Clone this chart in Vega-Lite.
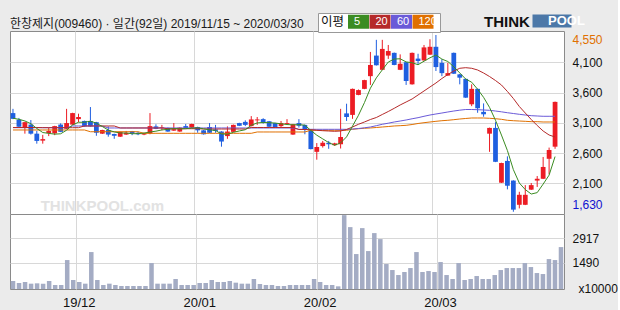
{
  "$schema": "https://vega.github.io/schema/vega-lite/v6.json",
  "background": "#ebebeb",
  "padding": {"left": 7, "top": 12, "right": 0, "bottom": 0},
  "spacing": 0,
  "bounds": "flush",
  "config": {
    "view": {"stroke": "#8a8a8a", "fill": "white"},
    "font": "Liberation Sans",
    "axis": {"gridColor": "#d8d8d8", "domain": false, "ticks": false, "labelFont": "Liberation Sans", "labelColor": "#111", "labelOverlap": false}
  },
  "datasets": {
    "d": [
      {"date":"2019-11-15","open":3260,"high":3330,"low":3160,"close":3165,"vol":457,"ma5":3175,"ma20":3022,"ma60":3019,"ma120":2981},
      {"date":"2019-11-18","open":3150,"high":3180,"low":3030,"close":3035,"vol":343,"ma5":3157,"ma20":3022,"ma60":3019,"ma120":2981},
      {"date":"2019-11-19","open":3015,"high":3115,"low":2920,"close":3110,"vol":400,"ma5":3130,"ma20":3022,"ma60":3019,"ma120":2981},
      {"date":"2019-11-20","open":3070,"high":3145,"low":2905,"close":2920,"vol":305,"ma5":3085,"ma20":3022,"ma60":3019,"ma120":2981},
      {"date":"2019-11-21","open":2920,"high":2965,"low":2755,"close":2800,"vol":324,"ma5":3006,"ma20":3022,"ma60":3019,"ma120":2981},
      {"date":"2019-11-22","open":2805,"high":2900,"low":2755,"close":2830,"vol":305,"ma5":2939,"ma20":3019,"ma60":3019,"ma120":2981},
      {"date":"2019-11-25","open":2930,"high":3020,"low":2880,"close":2965,"vol":457,"ma5":2925,"ma20":3019,"ma60":3019,"ma120":2981},
      {"date":"2019-11-26","open":2925,"high":3050,"low":2895,"close":3045,"vol":228,"ma5":2912,"ma20":3019,"ma60":3019,"ma120":2981},
      {"date":"2019-11-27","open":3070,"high":3090,"low":2945,"close":2950,"vol":228,"ma5":2918,"ma20":3019,"ma60":3019,"ma120":2981},
      {"date":"2019-11-28","open":3000,"high":3330,"low":2995,"close":3095,"vol":1656,"ma5":2977,"ma20":3019,"ma60":3019,"ma120":2981},
      {"date":"2019-11-29","open":3070,"high":3265,"low":3065,"close":3260,"vol":514,"ma5":3063,"ma20":3019,"ma60":3047,"ma120":2981},
      {"date":"2019-12-02","open":3160,"high":3250,"low":3110,"close":3195,"vol":400,"ma5":3109,"ma20":3019,"ma60":3047,"ma120":2981},
      {"date":"2019-12-03","open":3130,"high":3135,"low":3035,"close":3040,"vol":305,"ma5":3108,"ma20":3047,"ma60":3047,"ma120":2981},
      {"date":"2019-12-04","open":3130,"high":3360,"low":3035,"close":3040,"vol":2113,"ma5":3126,"ma20":3047,"ma60":3047,"ma120":2952},
      {"date":"2019-12-05","open":3110,"high":3115,"low":2885,"close":2935,"vol":514,"ma5":3094,"ma20":3047,"ma60":3047,"ma120":2952},
      {"date":"2019-12-06","open":2920,"high":2985,"low":2915,"close":2980,"vol":228,"ma5":3038,"ma20":3047,"ma60":3047,"ma120":2952},
      {"date":"2019-12-09","open":2980,"high":3040,"low":2870,"close":2905,"vol":305,"ma5":2980,"ma20":3047,"ma60":3014,"ma120":2952},
      {"date":"2019-12-10","open":2915,"high":2920,"low":2835,"close":2885,"vol":228,"ma5":2949,"ma20":3047,"ma60":3014,"ma120":2952},
      {"date":"2019-12-11","open":2870,"high":2955,"low":2865,"close":2950,"vol":171,"ma5":2931,"ma20":3014,"ma60":3014,"ma120":2952},
      {"date":"2019-12-12","open":2905,"high":2965,"low":2900,"close":2935,"vol":171,"ma5":2931,"ma20":3014,"ma60":3014,"ma120":2952},
      {"date":"2019-12-13","open":2960,"high":2965,"low":2895,"close":2920,"vol":171,"ma5":2919,"ma20":3014,"ma60":3014,"ma120":2952},
      {"date":"2019-12-16","open":2935,"high":2950,"low":2895,"close":2910,"vol":171,"ma5":2920,"ma20":3014,"ma60":3014,"ma120":2952},
      {"date":"2019-12-17","open":2905,"high":2935,"low":2895,"close":2930,"vol":171,"ma5":2929,"ma20":3014,"ma60":3014,"ma120":2926},
      {"date":"2019-12-18","open":2925,"high":3260,"low":2910,"close":3045,"vol":1485,"ma5":2948,"ma20":3014,"ma60":3014,"ma120":2926},
      {"date":"2019-12-19","open":3040,"high":3075,"low":2995,"close":3000,"vol":305,"ma5":2961,"ma20":3014,"ma60":3014,"ma120":2926},
      {"date":"2019-12-20","open":3015,"high":3065,"low":2975,"close":3025,"vol":305,"ma5":2982,"ma20":3014,"ma60":3014,"ma120":2926},
      {"date":"2019-12-23","open":3015,"high":3020,"low":2950,"close":2955,"vol":305,"ma5":2991,"ma20":3002,"ma60":3014,"ma120":2926},
      {"date":"2019-12-24","open":2970,"high":3095,"low":2965,"close":2995,"vol":571,"ma5":3004,"ma20":3002,"ma60":3014,"ma120":2926},
      {"date":"2019-12-26","open":2955,"high":3025,"low":2950,"close":3020,"vol":228,"ma5":2999,"ma20":3002,"ma60":3014,"ma120":2926},
      {"date":"2019-12-27","open":3045,"high":3080,"low":3010,"close":3015,"vol":228,"ma5":3002,"ma20":3002,"ma60":3014,"ma120":2926},
      {"date":"2019-12-30","open":3020,"high":3085,"low":3015,"close":3080,"vol":228,"ma5":3013,"ma20":3002,"ma60":3014,"ma120":2926},
      {"date":"2020-01-02","open":3030,"high":3035,"low":2935,"close":2975,"vol":343,"ma5":3017,"ma20":3002,"ma60":3014,"ma120":2926},
      {"date":"2020-01-03","open":2975,"high":2980,"low":2905,"close":2910,"vol":343,"ma5":3000,"ma20":2997,"ma60":3014,"ma120":2926},
      {"date":"2020-01-06","open":3030,"high":3095,"low":2930,"close":2935,"vol":514,"ma5":2983,"ma20":2997,"ma60":3014,"ma120":2926},
      {"date":"2020-01-07","open":2990,"high":3065,"low":2935,"close":2965,"vol":400,"ma5":2973,"ma20":2997,"ma60":3014,"ma120":2926},
      {"date":"2020-01-08","open":2955,"high":2960,"low":2705,"close":2790,"vol":400,"ma5":2915,"ma20":2997,"ma60":3014,"ma120":2926},
      {"date":"2020-01-09","open":2880,"high":3040,"low":2835,"close":2955,"vol":457,"ma5":2911,"ma20":2997,"ma60":3014,"ma120":2926},
      {"date":"2020-01-10","open":2950,"high":3070,"low":2945,"close":3065,"vol":362,"ma5":2942,"ma20":2997,"ma60":3014,"ma120":2926},
      {"date":"2020-01-13","open":3095,"high":3100,"low":3045,"close":3050,"vol":305,"ma5":2965,"ma20":2997,"ma60":3014,"ma120":2926},
      {"date":"2020-01-14","open":3115,"high":3140,"low":3045,"close":3065,"vol":305,"ma5":2985,"ma20":2997,"ma60":3014,"ma120":2926},
      {"date":"2020-01-15","open":3045,"high":3210,"low":3040,"close":3155,"vol":571,"ma5":3058,"ma20":3022,"ma60":3014,"ma120":2926},
      {"date":"2020-01-16","open":3140,"high":3195,"low":3065,"close":3155,"vol":286,"ma5":3098,"ma20":3022,"ma60":3014,"ma120":2948},
      {"date":"2020-01-17","open":3160,"high":3175,"low":3085,"close":3100,"vol":228,"ma5":3105,"ma20":3022,"ma60":3014,"ma120":2948},
      {"date":"2020-01-20","open":3125,"high":3130,"low":3030,"close":3035,"vol":228,"ma5":3102,"ma20":3022,"ma60":3014,"ma120":2948},
      {"date":"2020-01-21","open":3095,"high":3100,"low":3025,"close":3030,"vol":171,"ma5":3095,"ma20":3022,"ma60":3014,"ma120":2948},
      {"date":"2020-01-22","open":3045,"high":3130,"low":3020,"close":3095,"vol":171,"ma5":3083,"ma20":3022,"ma60":3014,"ma120":2948},
      {"date":"2020-01-23","open":3080,"high":3160,"low":3075,"close":3095,"vol":228,"ma5":3071,"ma20":3022,"ma60":3014,"ma120":2948},
      {"date":"2020-01-28","open":2905,"high":3080,"low":2900,"close":3075,"vol":228,"ma5":3066,"ma20":3022,"ma60":3014,"ma120":2948},
      {"date":"2020-01-29","open":3095,"high":3160,"low":3020,"close":3050,"vol":228,"ma5":3069,"ma20":2989,"ma60":2992,"ma120":2948},
      {"date":"2020-01-30","open":3065,"high":3070,"low":2910,"close":2985,"vol":228,"ma5":3060,"ma20":2989,"ma60":2992,"ma120":2948},
      {"date":"2020-01-31","open":2975,"high":2980,"low":2660,"close":2665,"vol":571,"ma5":2974,"ma20":2986,"ma60":2992,"ma120":2976},
      {"date":"2020-02-03","open":2620,"high":2765,"low":2490,"close":2700,"vol":400,"ma5":2895,"ma20":2976,"ma60":2992,"ma120":2976},
      {"date":"2020-02-04","open":2715,"high":2800,"low":2690,"close":2770,"vol":228,"ma5":2834,"ma20":2969,"ma60":2992,"ma120":2976},
      {"date":"2020-02-05","open":2770,"high":2800,"low":2670,"close":2745,"vol":228,"ma5":2773,"ma20":2964,"ma60":2992,"ma120":2976},
      {"date":"2020-02-06","open":2730,"high":2770,"low":2720,"close":2760,"vol":152,"ma5":2728,"ma20":2959,"ma60":2992,"ma120":2976},
      {"date":"2020-02-07","open":2745,"high":3330,"low":2675,"close":2865,"vol":4225,"ma5":2768,"ma20":2964,"ma60":2992,"ma120":2976},
      {"date":"2020-02-10","open":3255,"high":3415,"low":3130,"close":3195,"vol":3540,"ma5":2867,"ma20":2989,"ma60":2992,"ma120":2976},
      {"date":"2020-02-11","open":3230,"high":3665,"low":3165,"close":3660,"vol":1999,"ma5":3045,"ma20":3030,"ma60":2997,"ma120":2992},
      {"date":"2020-02-12","open":3560,"high":3650,"low":3555,"close":3640,"vol":3483,"ma5":3224,"ma20":3075,"ma60":3005,"ma120":3002},
      {"date":"2020-02-13","open":3660,"high":3810,"low":3655,"close":3805,"vol":2170,"ma5":3433,"ma20":3113,"ma60":3017,"ma120":3009},
      {"date":"2020-02-14","open":3870,"high":4270,"low":3725,"close":4055,"vol":3198,"ma5":3671,"ma20":3154,"ma60":3030,"ma120":3014},
      {"date":"2020-02-17","open":4210,"high":4470,"low":4045,"close":4050,"vol":2855,"ma5":3842,"ma20":3187,"ma60":3052,"ma120":3022},
      {"date":"2020-02-18","open":3975,"high":4470,"low":3970,"close":4320,"vol":1428,"ma5":3974,"ma20":3237,"ma60":3075,"ma120":3030},
      {"date":"2020-02-19","open":4210,"high":4385,"low":4155,"close":4285,"vol":1085,"ma5":4103,"ma20":3286,"ma60":3093,"ma120":3038},
      {"date":"2020-02-20","open":4255,"high":4260,"low":4050,"close":4055,"vol":799,"ma5":4153,"ma20":3339,"ma60":3113,"ma120":3047},
      {"date":"2020-02-21","open":3975,"high":4230,"low":3970,"close":4075,"vol":971,"ma5":4157,"ma20":3394,"ma60":3129,"ma120":3052},
      {"date":"2020-02-24","open":4100,"high":4105,"low":3725,"close":3790,"vol":1199,"ma5":4105,"ma20":3443,"ma60":3146,"ma120":3058},
      {"date":"2020-02-25","open":3735,"high":4260,"low":3730,"close":4255,"vol":2113,"ma5":4092,"ma20":3493,"ma60":3166,"ma120":3071},
      {"date":"2020-02-26","open":4160,"high":4240,"low":4065,"close":4120,"vol":971,"ma5":4059,"ma20":3559,"ma60":3184,"ma120":3088},
      {"date":"2020-02-27","open":4130,"high":4385,"low":4125,"close":4345,"vol":1028,"ma5":4117,"ma20":3625,"ma60":3207,"ma120":3101},
      {"date":"2020-02-28","open":4225,"high":4480,"low":4220,"close":4355,"vol":971,"ma5":4173,"ma20":3691,"ma60":3228,"ma120":3113},
      {"date":"2020-03-02","open":4355,"high":4550,"low":3955,"close":4020,"vol":1542,"ma5":4219,"ma20":3757,"ma60":3245,"ma120":3124},
      {"date":"2020-03-03","open":4090,"high":4150,"low":3870,"close":3920,"vol":799,"ma5":4152,"ma20":3831,"ma60":3261,"ma120":3134},
      {"date":"2020-03-04","open":3880,"high":4090,"low":3875,"close":3920,"vol":571,"ma5":4112,"ma20":3897,"ma60":3278,"ma120":3141},
      {"date":"2020-03-05","open":4255,"high":4260,"low":3905,"close":3910,"vol":1485,"ma5":4025,"ma20":3955,"ma60":3294,"ma120":3151},
      {"date":"2020-03-06","open":3900,"high":3905,"low":3735,"close":3845,"vol":514,"ma5":3923,"ma20":4000,"ma60":3308,"ma120":3162},
      {"date":"2020-03-09","open":3825,"high":3830,"low":3510,"close":3515,"vol":571,"ma5":3822,"ma20":4010,"ma60":3319,"ma120":3171},
      {"date":"2020-03-10","open":3405,"high":3735,"low":3375,"close":3660,"vol":742,"ma5":3770,"ma20":4000,"ma60":3319,"ma120":3179},
      {"date":"2020-03-11","open":3660,"high":3665,"low":3265,"close":3340,"vol":571,"ma5":3654,"ma20":3972,"ma60":3316,"ma120":3179},
      {"date":"2020-03-12","open":3280,"high":3420,"low":3200,"close":3240,"vol":571,"ma5":3520,"ma20":3922,"ma60":3311,"ma120":3179},
      {"date":"2020-03-13","open":2920,"high":3020,"low":2620,"close":3015,"vol":799,"ma5":3354,"ma20":3864,"ma60":3306,"ma120":3174},
      {"date":"2020-03-16","open":3015,"high":3110,"low":2450,"close":2455,"vol":1085,"ma5":3142,"ma20":3798,"ma60":3294,"ma120":3167},
      {"date":"2020-03-17","open":2110,"high":2440,"low":2105,"close":2435,"vol":1199,"ma5":2897,"ma20":3724,"ma60":3281,"ma120":3157},
      {"date":"2020-03-18","open":2470,"high":2545,"low":2000,"close":2060,"vol":1199,"ma5":2641,"ma20":3617,"ma60":3266,"ma120":3141},
      {"date":"2020-03-19","open":2145,"high":2150,"low":1630,"close":1665,"vol":1199,"ma5":2326,"ma20":3501,"ma60":3253,"ma120":3134},
      {"date":"2020-03-20","open":1745,"high":1960,"low":1685,"close":1910,"vol":1485,"ma5":2105,"ma20":3369,"ma60":3240,"ma120":3129},
      {"date":"2020-03-23","open":1745,"high":2070,"low":1740,"close":1910,"vol":1256,"ma5":1996,"ma20":3261,"ma60":3228,"ma120":3124},
      {"date":"2020-03-24","open":1995,"high":2105,"low":1990,"close":2070,"vol":913,"ma5":1923,"ma20":3154,"ma60":3217,"ma120":3118},
      {"date":"2020-03-25","open":2145,"high":2220,"low":2040,"close":2175,"vol":856,"ma5":1946,"ma20":3055,"ma60":3212,"ma120":3118},
      {"date":"2020-03-26","open":2175,"high":2535,"low":2170,"close":2370,"vol":1713,"ma5":2087,"ma20":2964,"ma60":3207,"ma120":3113},
      {"date":"2020-03-27","open":2505,"high":2690,"low":2250,"close":2650,"vol":1656,"ma5":2235,"ma20":2898,"ma60":3207,"ma120":3113},
      {"date":"2020-03-30","open":2705,"high":3450,"low":2670,"close":3445,"vol":2398,"ma5":2542,"ma20":2865,"ma60":3207,"ma120":3113}
    ]
  },
  "vconcat": [
    {
      "width": 554,
      "height": 183,
      "data": {"name": "d"},
      "title": {"text": "한창제지(009460) · 일간(92일) 2019/11/15 ~ 2020/03/30", "anchor": "start", "frame": "group", "font": "Liberation Sans, Noto Sans CJK KR", "fontSize": 12, "fontWeight": "normal", "color": "#1a1a1a", "offset": -18},
      "resolve": {"legend": {"color": "independent"}},
      "encoding": {
        "x": {"field": "date", "type": "ordinal", "sort": null, "scale": {"paddingInner": 0, "paddingOuter": 0},
              "axis": {"values": ["2019-12-02", "2020-01-02", "2020-02-03", "2020-03-02"], "bandPosition": 0, "grid": true, "labels": false, "ticks": false, "domain": false, "title": null}}
      },
      "layer": [
        {
          "mark": {"type": "rule"},
          "encoding": {
            "y": {"field": "low", "type": "quantitative", "scale": {"domain": [1593, 4616], "nice": false, "zero": false},
                  "axis": {"orient": "right", "values": [1630, 2100, 2600, 3100, 3600, 4100, 4550], "tickCount": 12, "format": ",d", "title": null, "grid": true, "labelPadding": 8, "labelFontSize": 12, "labelOverlap": false,
                           "labelColor": {"condition": [{"test": "datum.value == 4550", "value": "#e07000"}, {"test": "datum.value == 1630", "value": "#1010d0"}], "value": "#111111"},
                           "labelBaseline": {"condition": [{"test": "datum.value == 4550", "value": "top"}, {"test": "datum.value == 1630", "value": "bottom"}], "value": "middle"},
                           "gridOpacity": {"condition": {"test": "datum.value == 4550 || datum.value == 1630", "value": 0}, "value": 1}}},
            "y2": {"field": "high"},
            "color": {"condition": {"test": "datum.close >= datum.open", "value": "#ec1c24"}, "value": "#1f5fe0"}
          }
        },
        {
          "mark": {"type": "bar", "width": {"band": 0.8}},
          "encoding": {
            "y": {"field": "open", "type": "quantitative"},
            "y2": {"field": "close"},
            "color": {"condition": {"test": "datum.close >= datum.open", "value": "#ec1c24"}, "value": "#1f5fe0"}
          }
        },
        {
          "transform": [{"fold": ["ma120", "ma60", "ma20", "ma5"], "as": ["ma", "value"]}],
          "mark": {"type": "line", "strokeWidth": 1},
          "encoding": {
            "y": {"field": "value", "type": "quantitative"},
            "color": {"field": "ma", "type": "nominal", "scale": {"domain": ["ma5", "ma20", "ma60", "ma120"], "range": ["#3b8c22", "#b52a2a", "#6a5ad8", "#e07000"]}, "legend": null},
            "detail": {"field": "ma"}
          }
        },
        {
          "transform": [{"fold": ["ma120", "ma60", "ma20", "ma5"], "as": ["ma", "value"]}],
          "mark": {"type": "point", "filled": true, "opacity": 0, "size": 100},
          "encoding": {
            "y": {"field": "value", "type": "quantitative"},
            "color": {"field": "ma", "type": "nominal", "scale": {"domain": ["ma5", "ma20", "ma60", "ma120"], "range": ["#3b8c22", "#b52a2a", "#6a5ad8", "#e07000"]},
                      "legend": {"title": "이평", "orient": "none", "legendX": 308, "legendY": -18, "direction": "horizontal", "titleOrient": "left", "titleAnchor": "middle", "titleFont": "Noto Sans CJK KR", "titleFontSize": 12.5, "titleFontWeight": "normal", "titleColor": "#111", "titlePadding": 3,
                                 "symbolType": "M-2.1,-1.4H2.1V1.4H-2.1Z", "symbolSize": 100, "symbolOffset": 5, "symbolStrokeWidth": 0, "symbolOpacity": 1,
                                 "labelExpr": "pad(replace(datum.label, 'ma', ''), 3, '\u2007', 'left')", "labelColor": "white", "labelFont": "Liberation Sans", "labelFontSize": 11, "labelOffset": -10, "columnPadding": 0.5, "padding": 3, "strokeColor": "#999999", "fillColor": "white"}}
          }
        },
        {
          "data": {"values": [{"label": "THINKPOOL.com"}]},
          "mark": {"type": "text", "font": "Liberation Sans", "fontSize": 15, "fontWeight": "bold", "color": "#e2e2e2"},
          "encoding": {
            "x": {"datum": "2019-12-06"},
            "y": {"datum": 1725},
            "text": {"field": "label"}
          }
        },
        {
          "data": {"values": [{"label": "THINKPOOL"}]},
          "mark": {"type": "point", "filled": true, "opacity": 0, "size": 100},
          "encoding": {
            "shape": {"datum": "POOL", "scale": {"range": ["M-3.9,-1.3H3.9V1.3H-3.9Z"]},
                      "legend": {"title": "THINK", "orient": "none", "legendX": 474, "legendY": -16.5, "direction": "horizontal", "titleOrient": "left", "titleAnchor": "middle", "titleFont": "Liberation Sans", "titleFontSize": 15, "titleFontWeight": "bold", "titleColor": "#111", "titlePadding": 1,
                                 "symbolSize": 100, "symbolOffset": 14.5, "symbolStrokeWidth": 0, "symbolOpacity": 1, "symbolFillColor": "#2c6fe6",
                                 "labelColor": "white", "labelFont": "Liberation Sans", "labelFontWeight": "bold", "labelFontSize": 13, "labelOffset": -10.5, "padding": 0}}
          }
        }
      ]
    },
    {
      "width": 554,
      "height": 75,
      "data": {"name": "d"},
      "mark": {"type": "bar", "width": {"band": 0.75}, "color": "#a4acc4"},
      "encoding": {
        "x": {"field": "date", "type": "ordinal", "sort": null, "scale": {"paddingInner": 0, "paddingOuter": 0},
              "axis": {"values": ["2019-12-02", "2020-01-02", "2020-02-03", "2020-03-02"], "bandPosition": 0, "grid": true, "ticks": false, "domain": false, "title": null, "labelAngle": 0, "labelFontSize": 13, "labelPadding": 7,
                       "labelExpr": "slice(datum.value, 2, 4) + '/' + slice(datum.value, 5, 7)"}},
        "y": {"field": "vol", "type": "quantitative", "scale": {"domain": [0, 4290], "nice": false},
              "axis": {"orient": "right", "values": [1490, 2917], "format": "d", "grid": true, "labelPadding": 8, "labelFontSize": 12,
                       "title": "x10000", "titleAngle": 0, "titleX": 14, "titleY": 74, "titleAlign": "left", "titleBaseline": "middle", "titleFont": "Liberation Sans", "titleFontSize": 12, "titleFontWeight": "normal", "titleColor": "#111"}}
      }
    }
  ]
}
